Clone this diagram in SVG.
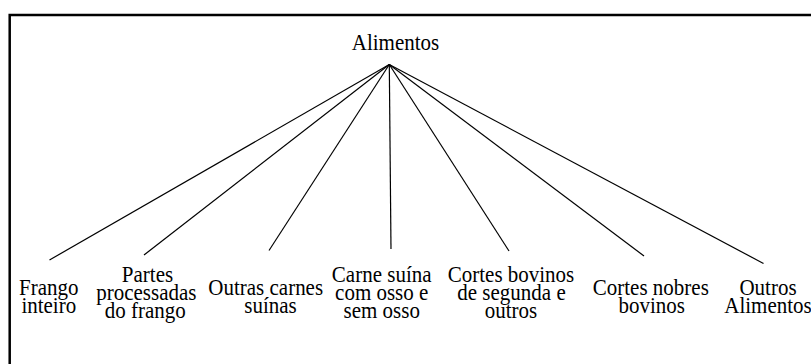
<svg xmlns="http://www.w3.org/2000/svg" width="811" height="364" viewBox="0 0 811 364">
<style>
text{font-family:'Liberation Serif','Times New Roman',serif;font-size:21px;fill:#000;text-anchor:middle}
.c{stroke:#000;stroke-width:1.2;fill:none}
</style>
<rect x="0" y="0" width="811" height="364" fill="#fff"/>
<rect x="9.7" y="15" width="830" height="380" fill="none" stroke="#000" stroke-width="2.5"/>
<g id="connectors">
<line class="c" x1="389.3" y1="64.5" x2="49.5" y2="260"/>
<line class="c" x1="389.3" y1="64.5" x2="144" y2="255"/>
<line class="c" x1="389.3" y1="64.5" x2="269" y2="250.5"/>
<line class="c" x1="389.3" y1="64.5" x2="391" y2="249"/>
<line class="c" x1="389.3" y1="64.5" x2="509" y2="251"/>
<line class="c" x1="389.3" y1="64.5" x2="644" y2="256"/>
<line class="c" x1="389.3" y1="64.5" x2="763.5" y2="263.5"/>
</g>
<g id="root"><text transform="translate(395.5,50) scale(1,1.08)">Alimentos</text></g>
<g id="n1">
<text transform="translate(48.7,295) scale(1,1.08)">Frango</text>
<text transform="translate(48.8,313.3) scale(1,1.08)">inteiro</text>
</g>
<g id="n2">
<text transform="translate(147.5,281.7) scale(1,1.08)">Partes</text>
<text transform="translate(146.3,300) scale(1,1.08)">processadas</text>
<text transform="translate(145.3,318.3) scale(1,1.08)">do frango</text>
</g>
<g id="n3">
<text transform="translate(265.7,295) scale(1,1.08)">Outras carnes</text>
<text transform="translate(270.5,313.3) scale(1,1.08)">suínas</text>
</g>
<g id="n4">
<text transform="translate(381.7,281.7) scale(1,1.08)">Carne suína</text>
<text transform="translate(381.7,300) scale(1,1.08)">com osso e</text>
<text transform="translate(381.7,318.3) scale(1,1.08)">sem osso</text>
</g>
<g id="n5">
<text transform="translate(511,281.7) scale(1,1.08)">Cortes bovinos</text>
<text transform="translate(511.5,300) scale(1,1.08)">de segunda e</text>
<text transform="translate(511,318.3) scale(1,1.08)">outros</text>
</g>
<g id="n6">
<text transform="translate(650.8,295) scale(1,1.08)">Cortes nobres</text>
<text transform="translate(651.7,313.3) scale(1,1.08)">bovinos</text>
</g>
<g id="n7">
<text transform="translate(768,295) scale(1,1.08)">Outros</text>
<text transform="translate(768,313.3) scale(1,1.08)">Alimentos</text>
</g>
</svg>
